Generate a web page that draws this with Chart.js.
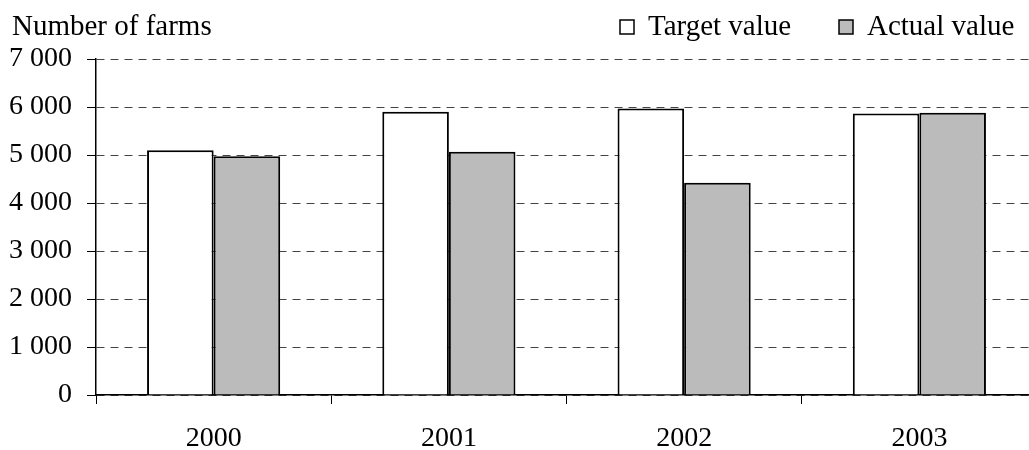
<!DOCTYPE html>
<html>
<head>
<meta charset="utf-8">
<script src="https://cdn.jsdelivr.net/npm/chart.js@4"></script>
<style>
  html, body { margin: 0; padding: 0; background: #fff; overflow: hidden; }
  canvas { display: block; }
</style>
</head>
<body>
<canvas id="chart" width="1037" height="450"></canvas>
<script>
const years = ["2000", "2001", "2002", "2003"];
const targetValues = [5100, 5900, 5970, 5865];
const actualValues = [4975, 5070, 4420, 5880];
const seriesNames = ["Target value", "Actual value"];
const axisTitle = "Number of farms";

const FONT = "'Liberation Serif', 'Times New Roman', serif";
Chart.defaults.font.family = FONT;
Chart.defaults.font.size = 28;
Chart.defaults.color = "#000";

// titulo del eje y leyenda dibujados a mano
const legendX = [620, 839];
const extras = {
  id: "extras",
  afterDraw(chart) {
    const ctx = chart.ctx;
    ctx.save();
    ctx.font = "29px " + FONT;
    ctx.fillStyle = "#000";
    ctx.textBaseline = "alphabetic";
    ctx.textAlign = "left";
    ctx.fillText(axisTitle, 12, 35);

    chart.data.datasets.forEach((ds, i) => {
      const boxX = legendX[i];
      ctx.fillStyle = ds.backgroundColor;
      ctx.fillRect(boxX, 20, 14, 14);
      ctx.lineWidth = 1.5;
      ctx.strokeStyle = "#000";
      ctx.strokeRect(boxX, 20, 14, 14);
      ctx.fillStyle = "#000";
      ctx.fillText(ds.label, boxX + 28, 35);
    });
    ctx.restore();
  },
};

new Chart(document.getElementById("chart"), {
  type: "bar",
  data: {
    labels: years,
    datasets: [
      {
        label: seriesNames[0],
        data: targetValues,
        backgroundColor: "#ffffff",
        borderColor: "#000",
        borderWidth: 2,
      },
      {
        label: seriesNames[1],
        data: actualValues,
        backgroundColor: "#bbbbbb",
        borderColor: "#000",
        borderWidth: 2,
      },
    ],
  },
  options: {
    responsive: false,
    animation: false,
    devicePixelRatio: 1,
    layout: { padding: { top: 59, right: 0, left: 0, bottom: 0 } },
    datasets: {
      bar: { categoryPercentage: 0.566, barPercentage: 1.0 },
    },
    plugins: {
      legend: { display: false },
      tooltip: { enabled: false },
    },
    scales: {
      x: {
        offset: true,
        grid: {
          offset: true,
          drawOnChartArea: false,
          drawTicks: true,
          tickLength: 9,
          tickColor: "#000",
          tickWidth: 1,
        },
        border: { display: true, color: "#000", width: 1.5 },
        ticks: { padding: 18, font: { size: 28 } },
        afterFit: (scale) => {
          scale.height = 55;
        },
      },
      y: {
        min: 0,
        max: 7000,
        ticks: {
          stepSize: 1000,
          padding: 15,
          font: { size: 28 },
          callback: (v) => String(v).replace(/\B(?=(\d{3})+(?!\d))/g, " "),
        },
        grid: {
          color: "#444",
          lineWidth: 1,
          tickBorderDash: [],
          tickColor: "#000",
          tickLength: 9,
        },
        border: { display: true, color: "#000", width: 1.5, dash: [8, 6] },
        afterFit: (scale) => {
          scale.width = 96;
        },
      },
    },
  },
  plugins: [extras],
});
</script>
</body>
</html>
